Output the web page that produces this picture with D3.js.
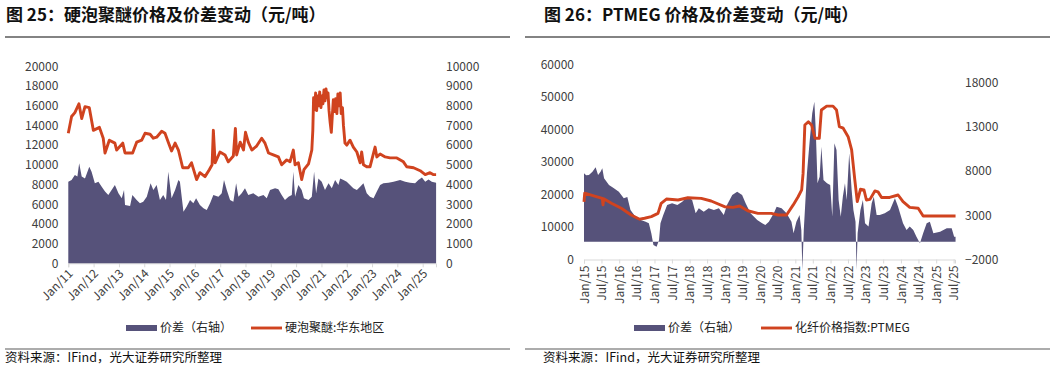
<!DOCTYPE html>
<html>
<head>
<meta charset="utf-8">
<script src="https://cdn.jsdelivr.net/npm/d3@7"></script>
<style>
  body { margin: 0; background: #fff; }
  svg text { font-family: "Noto Sans CJK SC", "Noto Sans", sans-serif; }
</style>
</head>
<body>
<svg id="chart" width="1054" height="370"></svg>
<script>
// ---------------- 图25 data (times as decimal years) ----------------
let foamPriceYears = [
  2011.00, 2011.13, 2011.26, 2011.42, 2011.53, 2011.66, 2011.83, 2011.99, 2012.23, 2012.38,
  2012.45, 2012.62, 2012.84, 2012.91, 2013.15, 2013.24, 2013.54, 2013.70, 2013.90, 2014.03,
  2014.23, 2014.36, 2014.49, 2014.69, 2014.82, 2014.95, 2015.08, 2015.22, 2015.35, 2015.52,
  2015.74, 2015.87, 2016.07, 2016.20, 2016.40, 2016.57, 2016.68, 2016.73, 2016.80, 2016.99,
  2017.19, 2017.32, 2017.52, 2017.60, 2017.65, 2017.79, 2017.92, 2018.00, 2018.11, 2018.25,
  2018.44, 2018.64, 2018.77, 2018.91, 2019.10, 2019.30, 2019.43, 2019.63, 2019.76, 2019.89,
  2019.96, 2020.09, 2020.22, 2020.31, 2020.49, 2020.62, 2020.66, 2020.69, 2020.73, 2020.77,
  2020.81, 2020.85, 2020.89, 2020.93, 2020.98, 2021.02, 2021.06, 2021.10, 2021.14, 2021.18,
  2021.22, 2021.26, 2021.30, 2021.34, 2021.39, 2021.43, 2021.47, 2021.52, 2021.56, 2021.61,
  2021.65, 2021.70, 2021.74, 2021.78, 2021.83, 2021.87, 2021.93, 2022.00, 2022.13, 2022.26,
  2022.40, 2022.53, 2022.59, 2022.66, 2022.79, 2022.92, 2023.12, 2023.19, 2023.32, 2023.52,
  2023.71, 2023.98, 2024.24, 2024.37, 2024.64, 2024.90, 2025.10, 2025.29, 2025.43, 2025.53
];
let foamPrice = [
  13200, 14900, 15300, 16200, 14700, 15900, 15800, 13500, 13800, 12700,
  11200, 12500, 12200, 11500, 12200, 11200, 11200, 12300, 12500, 13200,
  13100, 12700, 12800, 13400, 13200, 12300, 11400, 12200, 11500, 9700,
  9700, 10200, 8500, 9200, 8800, 9500, 10000, 13500, 10200, 11300,
  11000, 10300, 10900, 13700, 11000, 12300, 11500, 13300, 12300, 11500,
  11900, 12700, 12200, 11200, 11000, 10800, 10000, 10500, 10300, 11500,
  10000, 10200, 8500, 9500, 10100, 11500, 13500, 16800, 15600, 17300,
  15500, 17000, 16000, 17400, 15800, 17000, 16200, 17600, 16500, 17700,
  16800, 17300, 15500, 14400, 13300, 15000, 16600, 15400, 16700, 15200,
  17200, 16000, 17300, 15200, 15800, 14000, 12200, 12000, 12500, 11800,
  11300, 10200, 11300, 10000, 9800, 9800, 11800, 10800, 11100, 10800,
  10700, 10700, 10300, 9800, 9700, 9400, 9000, 9200, 9000, 9000
];
let foamSpreadYears = [
  2011.00, 2011.13, 2011.26, 2011.36, 2011.43, 2011.53, 2011.66, 2011.83, 2011.92, 2012.05,
  2012.19, 2012.32, 2012.45, 2012.58, 2012.71, 2012.84, 2012.98, 2013.11, 2013.20, 2013.24,
  2013.44, 2013.53, 2013.70, 2013.83, 2013.96, 2014.10, 2014.25, 2014.36, 2014.49, 2014.62,
  2014.75, 2014.86, 2014.95, 2015.08, 2015.22, 2015.35, 2015.41, 2015.55, 2015.68, 2015.81,
  2015.94, 2016.05, 2016.20, 2016.34, 2016.47, 2016.60, 2016.73, 2016.93, 2017.06, 2017.15,
  2017.26, 2017.39, 2017.52, 2017.63, 2017.72, 2017.85, 2017.98, 2018.11, 2018.31, 2018.51,
  2018.71, 2018.84, 2018.97, 2019.17, 2019.30, 2019.43, 2019.56, 2019.70, 2019.83, 2019.89,
  2019.96, 2020.09, 2020.22, 2020.31, 2020.49, 2020.62, 2020.71, 2020.79, 2020.88, 2021.01,
  2021.14, 2021.28, 2021.41, 2021.54, 2021.67, 2021.74, 2021.87, 2022.00, 2022.13, 2022.26,
  2022.40, 2022.53, 2022.66, 2022.79, 2022.92, 2023.06, 2023.19, 2023.32, 2023.45, 2023.65,
  2023.85, 2024.11, 2024.31, 2024.50, 2024.70, 2024.83, 2024.97, 2025.10, 2025.23, 2025.36,
  2025.53
];
let foamSpread = [
  4140, 4230, 4480, 4400, 5080, 4400, 4310, 4900, 4650, 4060,
  4140, 3890, 3640, 3470, 3720, 3980, 3550, 3300, 3720, 2960,
  2910, 3470, 3210, 3050, 3130, 3380, 4060, 3720, 3980, 3210,
  3470, 3210, 4650, 3300, 3720, 4230, 4140, 2620, 2880, 3210,
  3050, 3300, 2960, 2790, 2710, 3050, 3470, 3380, 3550, 4230,
  3720, 3210, 3130, 4060, 3380, 3550, 3810, 3470, 3550, 3380,
  3470, 3300, 3720, 3810, 3760, 3470, 3210, 3380, 3470, 4650,
  3380, 3980, 3720, 3300, 3210, 3380, 4650, 3550, 4310, 4140,
  3720, 4060, 3810, 4230, 3980, 4310, 4230, 4140, 3980, 3810,
  3720, 3890, 4060, 3550, 3380, 3300, 3640, 3980, 4060, 4090,
  4140, 4230, 4140, 4090, 4060, 4230, 4360, 4140, 4260, 4140,
  4090
];
let foamXLabels = ["Jan/11", "Jan/12", "Jan/13", "Jan/14", "Jan/15", "Jan/16", "Jan/17", "Jan/18",
  "Jan/19", "Jan/20", "Jan/21", "Jan/22", "Jan/23", "Jan/24", "Jan/25"];
let foamLeftTicks = [0, 2000, 4000, 6000, 8000, 10000, 12000, 14000, 16000, 18000, 20000];
let foamRightTicks = [0, 1000, 2000, 3000, 4000, 5000, 6000, 7000, 8000, 9000, 10000];

// ---------------- 图26 data ----------------
let ptmegPriceYears = [
  2015.00, 2015.02, 2015.30, 2015.52, 2015.54, 2015.56, 2015.78, 2016.06, 2016.34, 2016.58,
  2016.72, 2016.91, 2017.10, 2017.19, 2017.34, 2017.67, 2017.95, 2018.33, 2018.61, 2018.99,
  2019.23, 2019.42, 2019.65, 2019.94, 2020.32, 2020.51, 2020.75, 2020.94, 2021.08, 2021.18,
  2021.22, 2021.27, 2021.37, 2021.46, 2021.56, 2021.68, 2021.74, 2021.89, 2022.07, 2022.17,
  2022.25, 2022.36, 2022.50, 2022.60, 2022.69, 2022.76, 2022.85, 2022.95, 2023.02, 2023.12,
  2023.26, 2023.35, 2023.45, 2023.68, 2023.92, 2024.06, 2024.25, 2024.49, 2024.63, 2025.55
];
let ptmegPrice = [
  17700, 20400, 19500, 18800, 16800, 18700, 17300, 15750, 13700, 12400,
  12700, 13200, 14200, 17300, 18600, 18300, 19000, 18800, 18000, 16250,
  16050, 16450, 15000, 14200, 14200, 13700, 13700, 16800, 19300, 21400,
  26500, 41400, 42400, 41400, 37300, 37300, 46000, 47200, 47200, 46000,
  40900, 40400, 37800, 33700, 24500, 17800, 21600, 21400, 18300, 18500,
  21100, 20800, 19100, 19100, 19850, 17800, 16050, 15750, 13400, 13400
];
let ptmegSpreadYears = [
  2015.00, 2015.06, 2015.14, 2015.24, 2015.33, 2015.40, 2015.47, 2015.52, 2015.57, 2015.71,
  2015.85, 2015.99, 2016.13, 2016.23, 2016.32, 2016.46, 2016.61, 2016.75, 2016.84, 2016.91,
  2016.97, 2017.06, 2017.13, 2017.17, 2017.25, 2017.36, 2017.50, 2017.65, 2017.79, 2017.93,
  2018.07, 2018.17, 2018.26, 2018.40, 2018.54, 2018.69, 2018.83, 2018.97, 2019.06, 2019.21,
  2019.35, 2019.49, 2019.59, 2019.73, 2019.92, 2020.06, 2020.15, 2020.25, 2020.39, 2020.47,
  2020.61, 2020.75, 2020.89, 2020.95, 2021.03, 2021.12, 2021.17, 2021.20, 2021.24, 2021.33,
  2021.41, 2021.48, 2021.54, 2021.58, 2021.63, 2021.69, 2021.74, 2021.80, 2021.90, 2021.99,
  2022.05, 2022.11, 2022.17, 2022.23, 2022.29, 2022.35, 2022.41, 2022.46, 2022.53, 2022.60,
  2022.65, 2022.71, 2022.74, 2022.77, 2022.85, 2022.92, 2022.98, 2023.08, 2023.17, 2023.23,
  2023.31, 2023.40, 2023.54, 2023.69, 2023.83, 2023.92, 2024.06, 2024.16, 2024.25, 2024.35,
  2024.44, 2024.54, 2024.63, 2024.73, 2024.82, 2024.92, 2025.11, 2025.30, 2025.44, 2025.51,
  2025.55
];
let ptmegSpread = [
  7730, 7500, 7540, 7910, 8400, 7540, 7900, 8290, 7160, 6410,
  6040, 5650, 4910, 5050, 3590, 2830, 2460, 2270, 2090, 960,
  -360, -550, 200, 2090, 3020, 4150, 4340, 4150, 4520, 5090,
  4710, 3210, 3780, 3400, 3780, 3590, 3780, 3020, 4150, 5280,
  5650, 5280, 4340, 3210, 2460, 2090, 1890, 2270, 3210, 3960,
  3780, 3210, 2270, 960, 2270, 3020, 1330, -3180, 1330, 7730,
  11490, 14500, 15810, 12620, 6600, 7350, 10730, 6970, 6600, 6410,
  2830, 11120, 10360, 4720, 2830, 5090, 6600, 4720, 9990, 5840,
  3590, 2270, -3180, 960, 3590, 4720, 2090, 1710, 4340, 5090,
  3020, 3020, 3210, 3590, 4900, 3960, 2090, 1330, 1710, 1330,
  580, -170, 960, 2090, 2270, 960, 1140, 1520, 1520, 580,
  580
];
let ptmegXLabels = ["Jan/15", "Jul/15", "Jan/16", "Jul/16", "Jan/17", "Jul/17", "Jan/18", "Jul/18",
  "Jan/19", "Jul/19", "Jan/20", "Jul/20", "Jan/21", "Jul/21", "Jan/22", "Jul/22", "Jan/23", "Jul/23",
  "Jan/24", "Jul/24", "Jan/25", "Jul/25"];
let ptmegLeftTicks = [0, 10000, 20000, 30000, 40000, 50000, 60000];
let ptmegRightTicks = [-2000, 3000, 8000, 13000, 18000];

// colours
const areaColor = "#56527a";
const lineColor = "#d0431f";
const tickColor = "#404040";

function yearToDate(y) {
  let yr = Math.floor(y);
  let start = new Date(yr, 0, 1), end = new Date(yr + 1, 0, 1);
  return new Date(+start + (y - yr) * (end - start));
}
let parseLabel = d3.timeParse("%b/%y");

let svg = d3.select("#chart");

function drawPanel(p) {
  let g = svg.append("g");

  // title and rules
  g.append("text")
    .attr("x", p.titleX).attr("y", 21)
    .style("font-size", "17px").style("font-weight", "bold").style("fill", "#111")
    .text(p.title);
  g.append("line")
    .attr("x1", p.ruleX0).attr("x2", p.ruleX1).attr("y1", 37).attr("y2", 37)
    .style("stroke", "#5a5a5a").style("stroke-width", 1.5);
  g.append("line")
    .attr("x1", p.ruleX0).attr("x2", p.ruleX1).attr("y1", 349).attr("y2", 349)
    .style("stroke", "#5a5a5a").style("stroke-width", 1.2);
  g.append("text")
    .attr("x", p.sourceX).attr("y", 362)
    .style("font-size", "12.5px").style("fill", "#111")
    .text("资料来源：IFind，光大证券研究所整理");

  let x = d3.scaleTime().domain(p.xDomain).range([p.left, p.right]);
  let yL = d3.scaleLinear().domain(p.leftDomain).range([p.bottom, p.top]);
  let yR = d3.scaleLinear().domain(p.rightDomain).range([p.bottom, p.top]);

  // y axes (labels only)
  let axL = g.append("g")
    .attr("transform", `translate(${p.left},0)`)
    .call(d3.axisLeft(yL).tickValues(p.leftTicks).tickSize(0).tickPadding(10).tickFormat(d3.format("d")));
  let axR = g.append("g")
    .attr("transform", `translate(${p.right},0)`)
    .call(d3.axisRight(yR).tickValues(p.rightTicks).tickSize(0).tickPadding(10).tickFormat(d3.format("d")));
  [axL, axR].forEach(a => {
    a.select(".domain").remove();
    a.selectAll("text").style("font-size", "12px").style("fill", tickColor)
      .style("font-family", '"Noto Sans CJK SC", sans-serif');
  });

  // x axis
  let tickDates = p.xLabels.map(parseLabel);
  let axX = g.append("g")
    .attr("transform", `translate(0,${p.bottom})`)
    .call(d3.axisBottom(x).tickValues(tickDates).tickSize(4)
      .tickFormat((d, i) => p.xLabels[i]));
  axX.select(".domain").attr("stroke", "#d9d9d9");
  axX.selectAll("line").attr("stroke", "#d9d9d9");
  axX.selectAll("text")
    .style("font-size", "12px").style("fill", tickColor)
    .style("font-family", '"Noto Sans CJK SC", sans-serif')
    .style("text-anchor", "end")
    .attr("x", 0).attr("y", 0).attr("dy", "0.35em")
    .attr("transform", p.labelTransform);

  // spread area on right axis
  let spread = p.spreadYears.map((t, i) => ({ date: yearToDate(t), v: p.spread[i] }));
  let area = d3.area()
    .x(d => x(d.date))
    .y0(yR(0))
    .y1(d => yR(d.v));
  g.append("path").datum(spread)
    .attr("d", area)
    .attr("fill", areaColor);

  // price line on left axis
  let price = p.priceYears.map((t, i) => ({ date: yearToDate(t), v: p.price[i] }));
  let line = d3.line()
    .x(d => x(d.date))
    .y(d => yL(d.v));
  g.append("path").datum(price)
    .attr("d", line)
    .attr("fill", "none")
    .attr("stroke", lineColor)
    .attr("stroke-width", 2.9)
    .attr("stroke-linejoin", "round");

  // legend
  let ly = 328;
  g.append("rect")
    .attr("x", p.legendX).attr("y", ly - 3).attr("width", 31).attr("height", 6)
    .attr("fill", areaColor);
  g.append("text")
    .attr("x", p.legendX + 34).attr("y", ly).attr("dy", "0.35em")
    .style("font-size", "12px").style("fill", "#222")
    .text("价差（右轴）");
  g.append("line")
    .attr("x1", p.legendX2).attr("x2", p.legendX2 + 31).attr("y1", ly).attr("y2", ly)
    .attr("stroke", lineColor).attr("stroke-width", 2.9);
  g.append("text")
    .attr("x", p.legendX2 + 34).attr("y", ly).attr("dy", "0.35em")
    .style("font-size", "12px").style("fill", "#222")
    .text(p.lineName);
}

drawPanel({
  title: "图 25：硬泡聚醚价格及价差变动（元/吨）",
  titleX: 6, ruleX0: 5, ruleX1: 510, sourceX: 5,
  left: 68.3, right: 436, top: 66.3, bottom: 263.3,
  xDomain: [new Date(2011, 0, 1), new Date(2025, 6, 12)],
  leftDomain: [0, 20000], rightDomain: [0, 10000],
  leftTicks: foamLeftTicks, rightTicks: foamRightTicks,
  xLabels: foamXLabels,
  labelTransform: "translate(2,8) rotate(-45)",
  spreadYears: foamSpreadYears, spread: foamSpread,
  priceYears: foamPriceYears, price: foamPrice,
  legendX: 126, legendX2: 251, lineName: "硬泡聚醚:华东地区"
});

drawPanel({
  title: "图 26：PTMEG 价格及价差变动（元/吨）",
  titleX: 544, ruleX0: 525, ruleX1: 1050, sourceX: 543,
  left: 584, right: 955, top: 64.5, bottom: 259.5,
  xDomain: [new Date(2015, 0, 1), new Date(2025, 6, 15)],
  leftDomain: [0, 60000], rightDomain: [-2000, 20000],
  leftTicks: ptmegLeftTicks, rightTicks: ptmegRightTicks,
  xLabels: ptmegXLabels,
  labelTransform: "translate(0,6) rotate(-90)",
  spreadYears: ptmegSpreadYears, spread: ptmegSpread,
  priceYears: ptmegPriceYears, price: ptmegPrice,
  legendX: 634, legendX2: 761, lineName: "化纤价格指数:PTMEG"
});
</script>
</body>
</html>
